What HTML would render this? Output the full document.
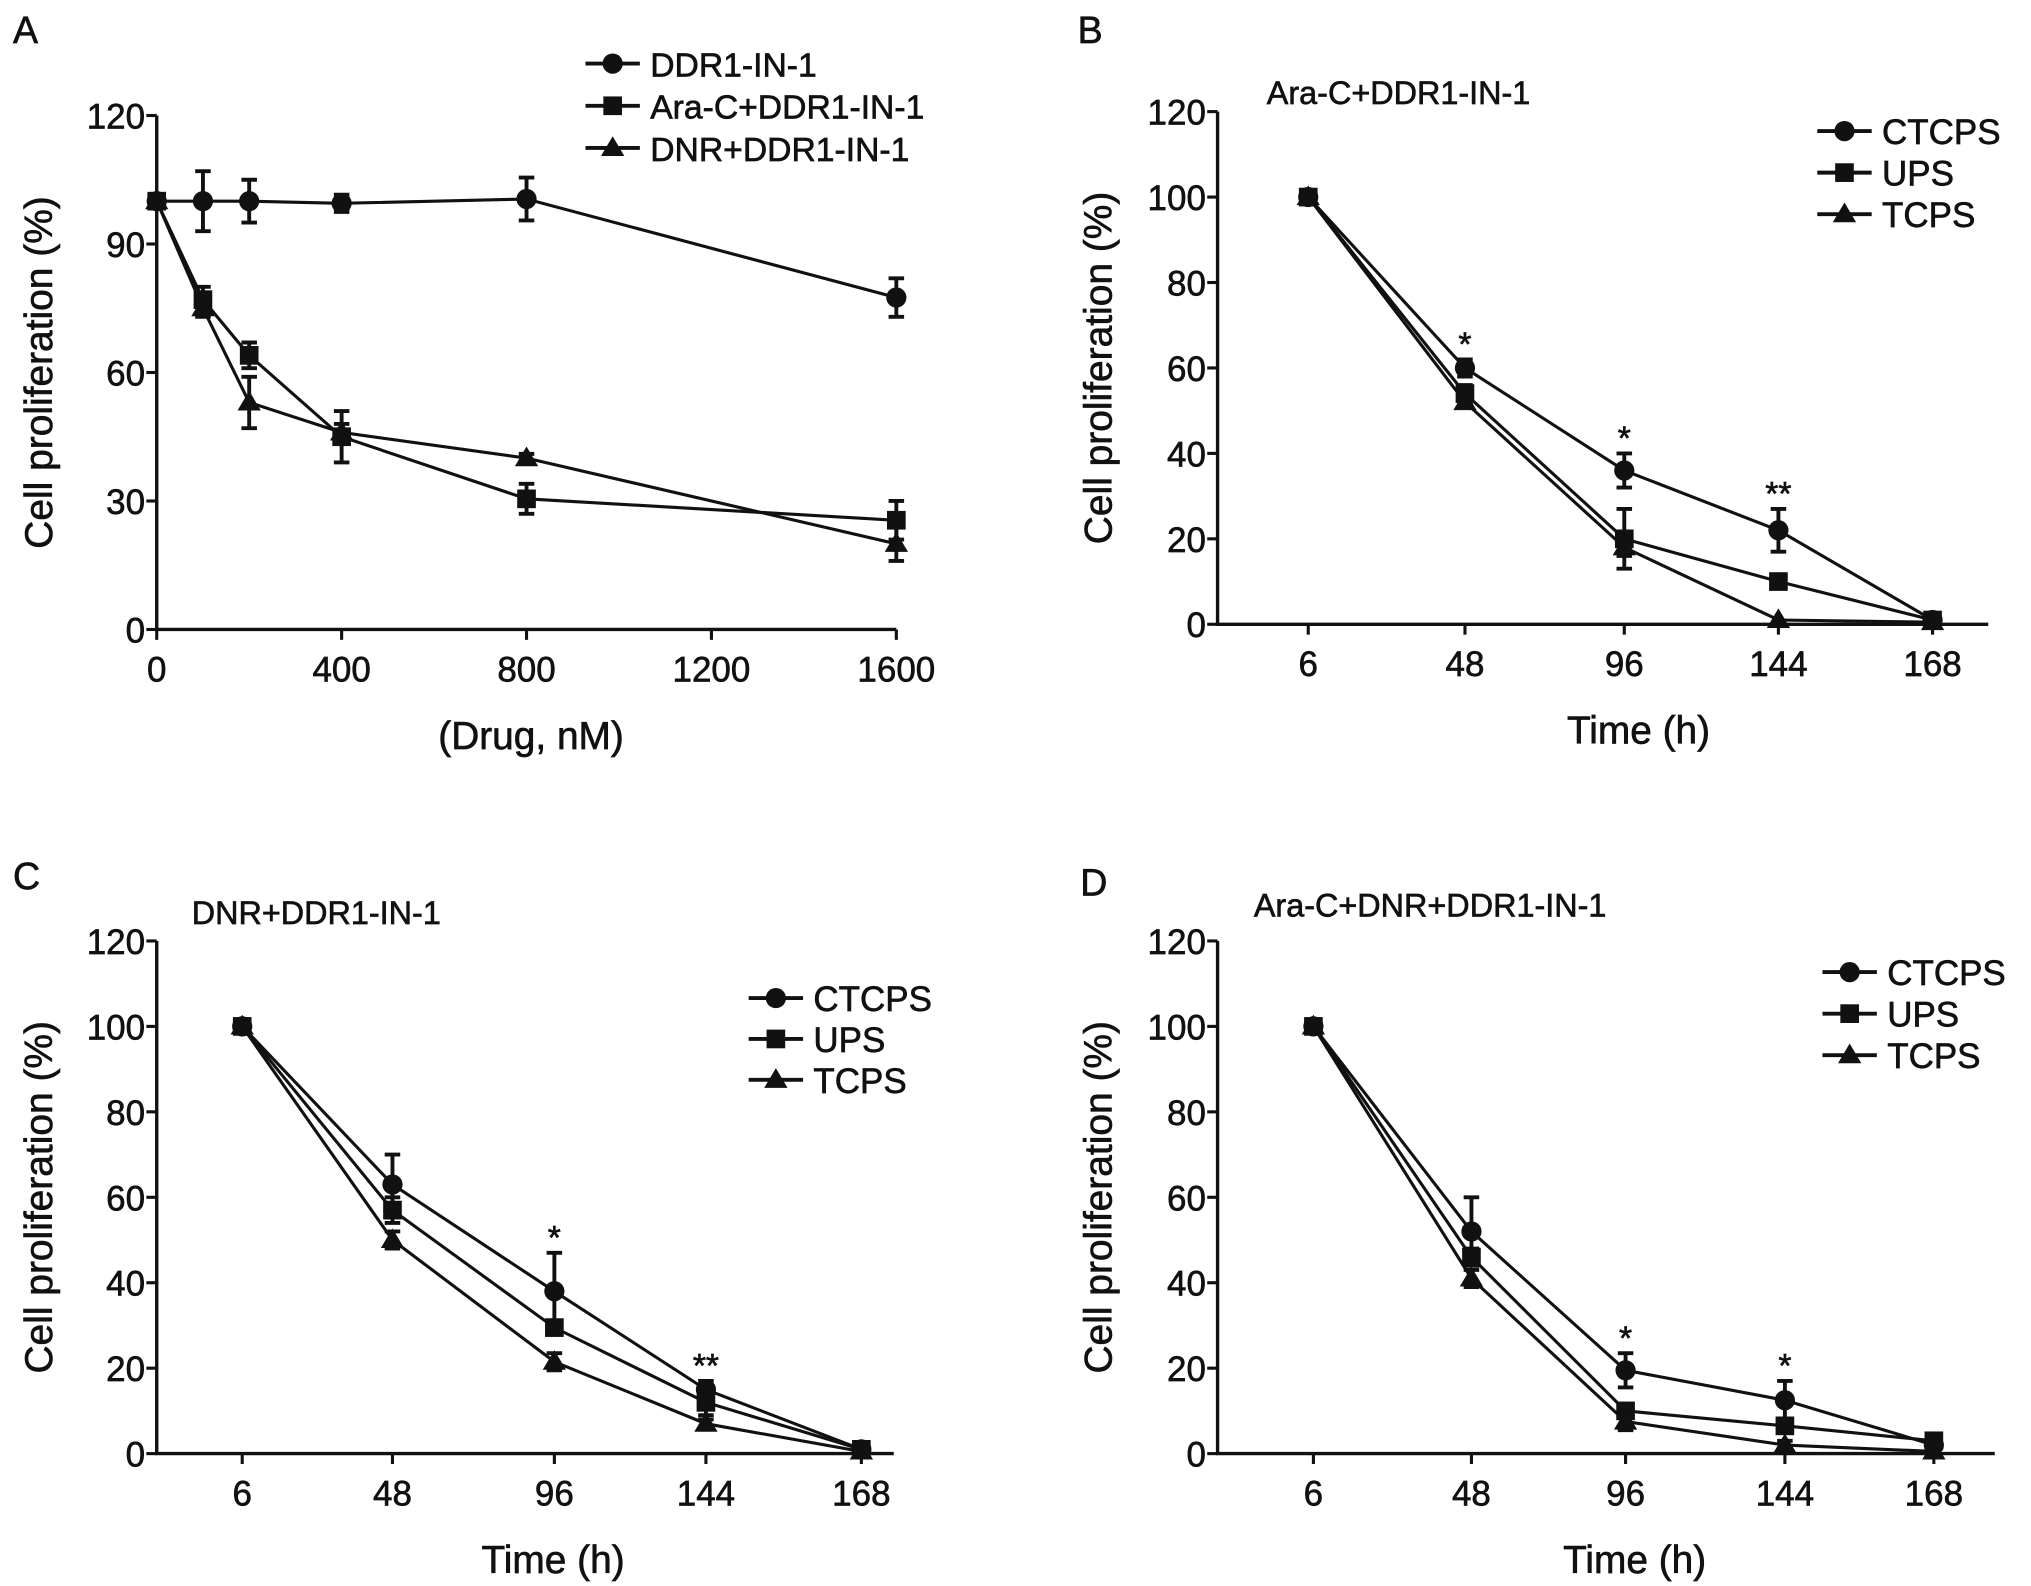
<!DOCTYPE html>
<html><head><meta charset="utf-8"><style>
html,body{margin:0;padding:0;background:#fff}
svg{display:block}
text{font-family:"Liberation Sans",Arial,sans-serif;fill:#111;stroke:#111;stroke-width:0.5}
</style></head><body>
<svg id="fig" width="2031" height="1586" viewBox="0 0 1568 1222" preserveAspectRatio="none" xmlns="http://www.w3.org/2000/svg"></svg>
<script>
// Panel A data
const aDoses = [0, 100, 200, 400, 800, 1600];
const aDDR = [100, 100, 100, 99.5, 100.5, 77.5];
const aDDRErr = [0, 7, 5, 2, 5, 4.5];
const aAra = [100, 77, 64, 45, 30.5, 25.5];
const aAraErr = [0, 3, 3, 6, 3.5, 4.5];
const aDNR = [100, 75, 53, 46, 40, 20];
const aDNRErr = [0, 2, 6, 2, 1, 4];
const aYTicks = [0, 30, 60, 90, 120];
const aXTicks = [0, 400, 800, 1200, 1600];
const aSeriesNames = ["DDR1-IN-1", "Ara-C+DDR1-IN-1", "DNR+DDR1-IN-1"];
// Time panels
const timeCats = ["6", "48", "96", "144", "168"];
const tYTicks = [0, 20, 40, 60, 80, 100, 120];
const tSeriesNames = ["CTCPS", "UPS", "TCPS"];
const bCT = [100, 60, 36, 22, 1];
const bCTErr = [0, 2, 4, 5, 0.5];
const bUPS = [100, 54, 20, 10, 1];
const bUPSErr = [0, 2, 7, 1, 0.5];
const bTC = [100, 52, 18, 1, 0.5];
const bTCErr = [0, 1, 2, 0.5, 0.3];
const bStars = ["", "*", "*", "**", ""];
const cCT = [100, 63, 38, 15, 1];
const cCTErr = [0, 7, 9, 2, 0.5];
const cUPS = [100, 57, 29.5, 12, 1];
const cUPSErr = [0, 3, 1.5, 3, 0.5];
const cTC = [100, 50, 21.5, 7, 0.5];
const cTCErr = [0, 2, 2, 1, 0.3];
const cStars = ["", "", "*", "**", ""];
const dCT = [100, 52, 19.5, 12.5, 2];
const dCTErr = [0, 8, 4, 4.5, 0.5];
const dUPS = [100, 46, 10, 6.5, 3];
const dUPSErr = [0, 2, 1.5, 1.5, 1];
const dTC = [100, 41, 7.5, 2, 0.5];
const dTCErr = [0, 2, 2, 1, 0.3];
const dStars = ["", "", "*", "*", ""];

const NS = "http://www.w3.org/2000/svg";
const svg = document.getElementById("fig");
function mk(tag, attrs, parent, txt) {
  const e = document.createElementNS(NS, tag);
  for (const k in attrs) e.setAttribute(k, attrs[k]);
  if (txt !== undefined) e.textContent = txt;
  (parent || svg).appendChild(e);
  return e;
}
function marker(g, shape, x, y, s) {
  if (shape === 0) return mk("circle", {cx: x, cy: y, r: s * 0.78, fill: "#111"}, g);
  if (shape === 1) return mk("rect", {x: x - s * 0.72, y: y - s * 0.72, width: s * 1.44, height: s * 1.44, fill: "#111"}, g);
  return mk("polygon", {points: `${x},${y - s * 0.9} ${x - s * 0.9},${y + s * 0.62} ${x + s * 0.9},${y + s * 0.62}`, fill: "#111"}, g);
}
function panel(cfg) {
  const g = mk("g", {});
  
  
  const ys = v => cfg.y0 + (cfg.y1 - cfg.y0) * (v - cfg.ymin) / (cfg.ymax - cfg.ymin);
  const xs = cfg.xs;
  const ax = mk("path", {d: `M${cfg.ax},${cfg.y1} V${cfg.y0} H${cfg.axEnd}`, stroke: "#111", "stroke-width": 2.6, fill: "none"}, g);
  
  
  cfg.yTicks.forEach(t => {
    const y = ys(t);
    mk("line", {x1: cfg.ax - 8, x2: cfg.ax, y1: y, y2: y, stroke: "#111", "stroke-width": 2.4}, g);
    const tl = mk("text", {x: cfg.ax - 9, y: y + 10, "text-anchor": "end", "font-size": 27}, g, t);
    
    
  });
  cfg.xTicks.forEach((t, i) => {
    const x = xs(t, i);
    mk("line", {x1: x, x2: x, y1: cfg.y0, y2: cfg.y0 + 8, stroke: "#111", "stroke-width": 2.4}, g);
    const tl = mk("text", {x: x, y: cfg.y0 + 40, "text-anchor": "middle", "font-size": 27}, g, t);
    
    
  });
  const yt = mk("text", {x: 0, y: 0, "text-anchor": "middle", "font-size": 30, "stroke-width": 0.9, transform: `translate(${cfg.ytX},${(cfg.y0 + cfg.y1) / 2}) rotate(-90)`}, g, "Cell proliferation (%)");
  
  
  const xt = mk("text", {x: cfg.xtX, y: cfg.y0 + 92, "text-anchor": "middle", "font-size": 30, "stroke-width": 0.9}, g, cfg.xTitle);
  
  
  const pl = mk("text", {x: cfg.plX, y: cfg.plY, "font-size": 29}, g, cfg.label);
  
  
  if (cfg.title) {
    const tt = mk("text", {x: cfg.tX, y: cfg.tY, "font-size": 25}, g, cfg.title);
    
    
  }
  cfg.series.forEach((s, si) => {
    const sg = mk("g", {}, g);
    
    
    const pts = s.vals.map((v, i) => [xs(cfg.xVals[i], i), ys(v)]);
    mk("polyline", {points: pts.map(p => p.join(",")).join(" "), fill: "none", stroke: "#111", "stroke-width": 2.4}, sg);
    s.vals.forEach((v, i) => {
      const x = pts[i][0], e = s.err[i];
      if (e > 0.6) {
        const yt2 = ys(v + e), yb = ys(v - e);
        mk("path", {d: `M${x},${yt2} V${yb} M${x - 6},${yt2} H${x + 6} M${x - 6},${yb} H${x + 6}`, stroke: "#111", "stroke-width": 3, fill: "none"}, sg);
      }
      const m = marker(sg, si, x, pts[i][1], 10);
      
      
    });
  });
  if (cfg.stars) {
    cfg.stars.forEach((st, i) => {
      if (!st) return;
      const top = ys(cfg.series[0].vals[i] + cfg.series[0].err[i]);
      const sx = mk("text", {x: xs(cfg.xVals[i], i), y: top - 3, "text-anchor": "middle", "font-size": 26}, g, st);
      
      
    });
  }
  cfg.names.forEach((n, i) => {
    const y = cfg.lY + i * cfg.lStep;
    const lg = mk("g", {}, g);
    
    
    mk("line", {x1: cfg.lX, x2: cfg.lX + 42, y1: y, y2: y, stroke: "#111", "stroke-width": 3}, lg);
    marker(lg, i, cfg.lX + 21, y, 10);
    mk("text", {x: cfg.lX + 50, y: y + 10, "font-size": cfg.lFont}, lg, n);
  });
}
const catX = (pos) => (v, i) => pos[i];

panel({name: "panel-a", label: "A", plX: 10, plY: 33, ax: 121, axEnd: 692, y0: 485, y1: 89, ymin: 0, ymax: 120,
  xs: (v) => 121 + (692 - 121) * v / 1600, xVals: aDoses, xTicks: aXTicks, yTicks: aYTicks,
  ytX: 40, xtX: 410, xTitle: "(Drug, nM)",
  series: [{vals: aDDR, err: aDDRErr}, {vals: aAra, err: aAraErr}, {vals: aDNR, err: aDNRErr}],
  names: aSeriesNames, lX: 452, lY: 49, lStep: 32.5, lFont: 26});

const bPos = [1010, 1131, 1254, 1373, 1492];
panel({name: "panel-b", label: "B", plX: 832, plY: 33, ax: 940, axEnd: 1535, y0: 481, y1: 86, ymin: 0, ymax: 120,
  xs: catX(bPos), xVals: timeCats, xTicks: timeCats, yTicks: tYTicks,
  ytX: 858, xtX: 1265, xTitle: "Time (h)", title: "Ara-C+DDR1-IN-1", tX: 978, tY: 80,
  series: [{vals: bCT, err: bCTErr}, {vals: bUPS, err: bUPSErr}, {vals: bTC, err: bTCErr}], stars: bStars,
  names: tSeriesNames, lX: 1403, lY: 101, lStep: 32, lFont: 27});

const cPos = [187, 303, 428, 545, 665];
panel({name: "panel-c", label: "C", plX: 10, plY: 685, ax: 121, axEnd: 690, y0: 1120, y1: 725, ymin: 0, ymax: 120,
  xs: catX(cPos), xVals: timeCats, xTicks: timeCats, yTicks: tYTicks,
  ytX: 40, xtX: 427, xTitle: "Time (h)", title: "DNR+DDR1-IN-1", tX: 148, tY: 712,
  series: [{vals: cCT, err: cCTErr}, {vals: cUPS, err: cUPSErr}, {vals: cTC, err: cTCErr}], stars: cStars,
  names: tSeriesNames, lX: 578, lY: 769, lStep: 31.5, lFont: 27});

const dPos = [1014, 1136, 1255, 1378, 1493];
panel({name: "panel-d", label: "D", plX: 834, plY: 690, ax: 940, axEnd: 1540, y0: 1120, y1: 725, ymin: 0, ymax: 120,
  xs: catX(dPos), xVals: timeCats, xTicks: timeCats, yTicks: tYTicks,
  ytX: 858, xtX: 1262, xTitle: "Time (h)", title: "Ara-C+DNR+DDR1-IN-1", tX: 968, tY: 706,
  series: [{vals: dCT, err: dCTErr}, {vals: dUPS, err: dUPSErr}, {vals: dTC, err: dTCErr}], stars: dStars,
  names: tSeriesNames, lX: 1407, lY: 749, lStep: 32, lFont: 27});
</script>
</body></html>
